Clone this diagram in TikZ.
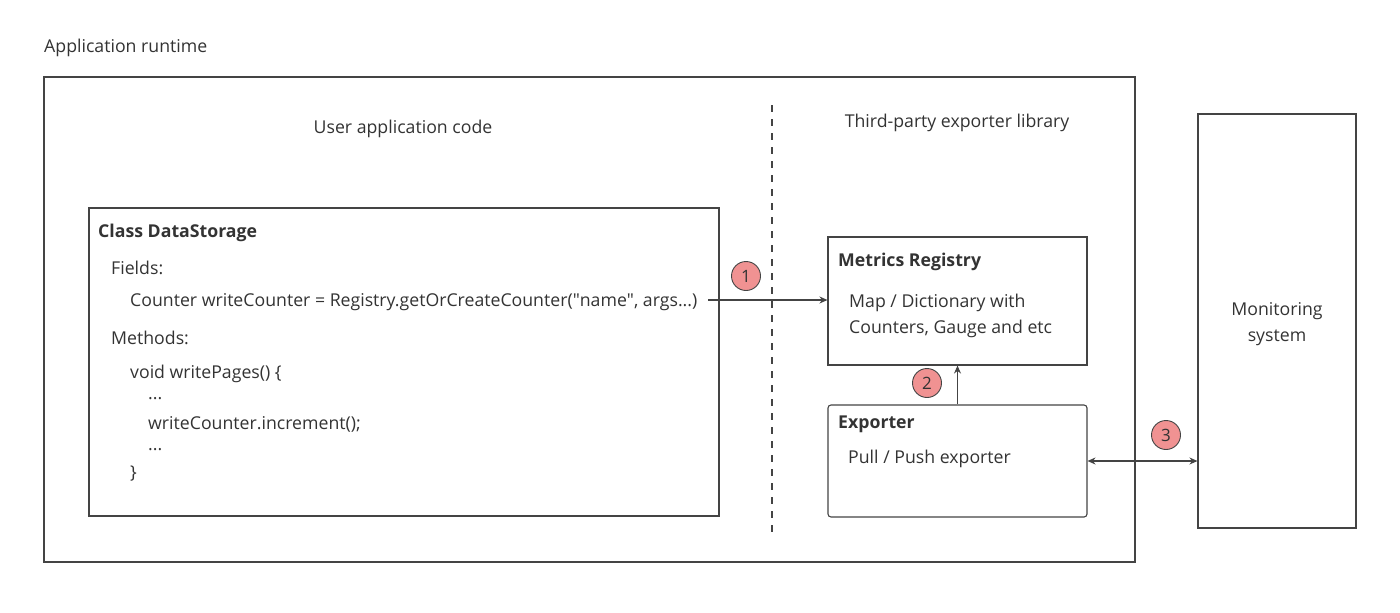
\documentclass[tikz,border=0pt]{standalone}
\usepackage{fontspec}
\setmainfont{Open Sans}
\usetikzlibrary{arrows.meta,calc,positioning}

\definecolor{ink}{RGB}{51,51,51}
\definecolor{edge}{RGB}{68,68,68}
\definecolor{badge}{RGB}{240,146,146}

\begin{document}
\begin{tikzpicture}[
  x=1pt, y=-1pt,
  font=\fontsize{17.7}{25.5}\selectfont, text=ink,
  frame/.style={draw=edge, line width=1.1pt, minimum width=#1},
  txt/.style={anchor=west, inner sep=0pt, yshift=-2pt},
  title/.style={txt, font=\fontsize{17.7}{25.5}\selectfont\bfseries},
  num/.style={circle, draw=edge, line width=.9pt, fill=badge, minimum size=29pt,
              inner sep=0pt, font=\fontsize{17}{18}\selectfont},
  arrow/.style={-{Stealth[length=8pt,width=7pt]}, draw=edge, line width=1.1pt},
  twoway/.style={{Stealth[length=8pt,width=7pt]}-{Stealth[length=8pt,width=7pt]},
                 draw=edge, line width=1.1pt},
]
\useasboundingbox (0,0) rectangle (1400,613);

% runtime frame and the two halves
\node[txt] (rt) at (44,46) {Application runtime};
\node[frame=1091pt, minimum height=485pt] (app) at (589.5,319.5) {};
\draw[edge, line width=1.1pt, dash pattern=on 7pt off 7pt] (772,105) -- (772,532);
\node[yshift=-2pt] (user) at (403,127) {User application code};
\node[yshift=-2pt] (third) at (957,121) {Third-party exporter library};

% user class
\node[frame=630pt, minimum height=308pt] (ds) at (404,362) {};
\node[title] (dsname) at (98,231) {Class DataStorage};
\node[txt] (fields) at (111,266) {Fields:};
\node[txt] (cnt) at (130,300)
 {Counter writeCounter = Registry.getOrCreateCounter(\textquotedbl name\textquotedbl, args...)};
\node[txt] (meth) at (111,336) {Methods:};
\node[txt] (wp) at (130,372) {void writePages() \{};
\node[txt] (dots1) at (148,397) {...};
\node[txt] (inc) at (148,422) {writeCounter.increment();};
\node[txt] (dots2) at (148,448) {...};
\node[txt] (close) at (130,472) {\}};

% exporter library
\node[frame=259pt, minimum height=128pt] (reg) at (957.5,301) {};
\node[title] (regname) at (838,260) {Metrics Registry};
\node[txt, align=left] (regtxt) at (849,314) {Map / Dictionary with\\Counters, Gauge and etc};
\node[frame=259pt, minimum height=112pt, rounded corners=3pt] (exp) at (957.5,461) {};
\node[title] (expname) at (838,422) {Exporter};
\node[txt] (exptxt) at (848,457) {Pull / Push exporter};

% monitoring
\node[frame=158pt, minimum height=414pt] (mon) at (1277,321) {};
\node[align=center, yshift=-3pt] (montxt) at (mon) {Monitoring\\system};

% connectors
\coordinate (a1) at (708,300);
\draw[arrow] (a1) -- (a1 -| reg.west);
\draw[arrow] (exp.north) -- (reg.south);
\draw[twoway] (exp.east) -- (exp.east -| mon.west);

\node[num] (n1) at (746,276) {1};
\node[num] (n2) at (927,383) {2};
\node[num] (n3) at (1166,435) {3};
\end{tikzpicture}
\end{document}
